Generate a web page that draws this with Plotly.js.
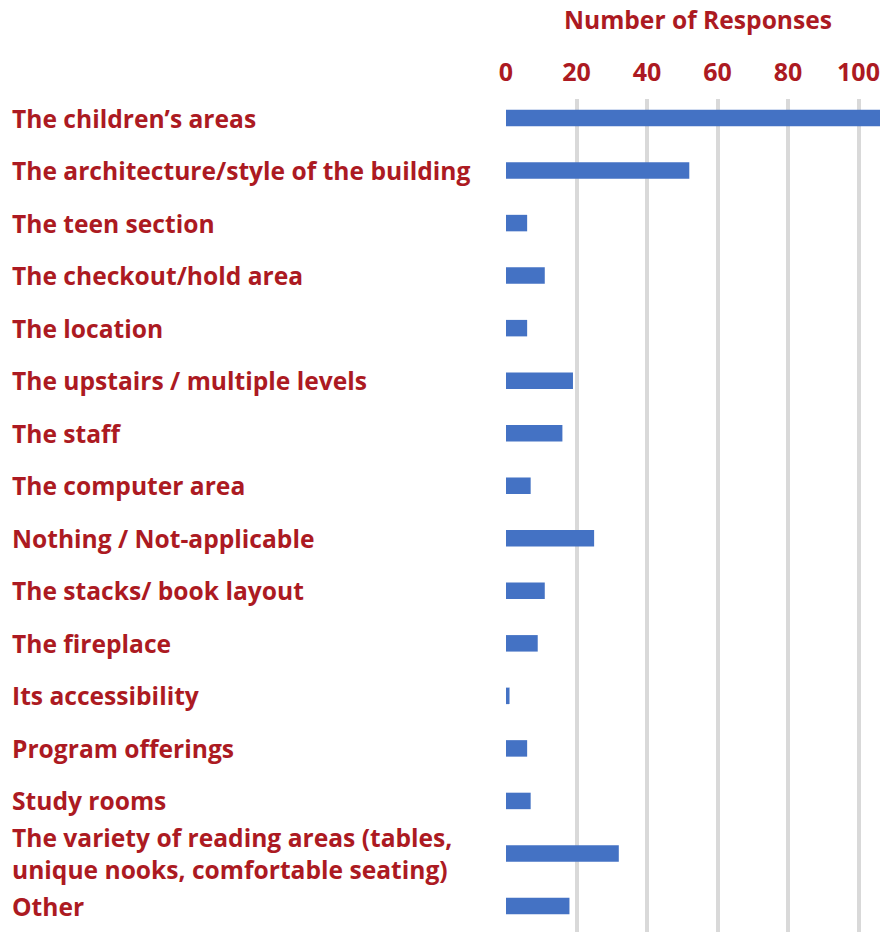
<!DOCTYPE html>
<html>
<head>
<meta charset="utf-8">
<script src="https://cdn.plot.ly/plotly-3.0.1.min.js"></script>
<style>html,body{margin:0;padding:0;background:#fff;}#chart{width:880px;height:932px;}</style>
</head>
<body>
<div id="chart"></div>
<script>
const categories = [
  "The children’s areas",
  "The architecture/style of the building",
  "The teen section",
  "The checkout/hold area",
  "The location",
  "The upstairs / multiple levels",
  "The staff",
  "The computer area",
  "Nothing / Not-applicable",
  "The stacks/ book layout",
  "The fireplace",
  "Its accessibility",
  "Program offerings",
  "Study rooms",
  "The variety of reading areas (tables,<br>unique nooks, comfortable seating)",
  "Other"
];
const responses = [110, 52, 6, 11, 6, 19, 16, 7, 25, 11, 9, 1, 6, 7, 32, 18];
const xTickValues = [0, 20, 40, 60, 80, 100];
const xTickLabels = ["0", "20", "40", "60", "80", "100"];
const axisTitle = "Number of Responses";

const RED = "#AC1A22";
const FONT = "Open Sans, sans-serif";

const trace = {
  type: "bar",
  orientation: "h",
  y: categories,
  x: responses,
  marker: {color: "#4472C4"},
  hoverinfo: "x+y"
};

const annotations = categories.map(c => ({
  xref: "paper", yref: "y",
  x: (10 - 506) / 374, y: c,
  xanchor: "left", yanchor: "middle", align: "left",
  text: c, showarrow: false,
  font: {family: FONT, size: 24.6, color: RED, weight: 700}
}));

const layout = {
  width: 880, height: 932,
  margin: {l: 506, r: 0, t: 99, b: 0, pad: 0},
  paper_bgcolor: "#fff", plot_bgcolor: "#fff",
  bargap: 0.686,
  showlegend: false,
  title: {
    text: axisTitle,
    font: {family: FONT, size: 24.6, color: RED, weight: 700},
    xref: "paper", x: (698 - 506) / 374, xanchor: "center",
    yref: "container", y: 1 - 20 / 932, yanchor: "middle"
  },
  xaxis: {
    side: "top",
    range: [0, 106.1],
    tickvals: xTickValues,
    ticktext: xTickLabels,
    showgrid: true, gridcolor: "#D9D9D9", gridwidth: 4,
    zeroline: false,
    showline: false,
    ticks: "outside", ticklen: 7, tickcolor: "rgba(0,0,0,0)",
    tickfont: {family: FONT, size: 25, color: RED, weight: 700}
  },
  yaxis: {
    type: "category",
    categoryorder: "array", categoryarray: categories,
    range: [15.495, -0.362],
    showticklabels: false,
    showgrid: false, zeroline: false, showline: false, ticks: ""
  },
  annotations: annotations
};

Plotly.newPlot("chart", [trace], layout, {displayModeBar: false, staticPlot: true});
</script>
</body>
</html>
